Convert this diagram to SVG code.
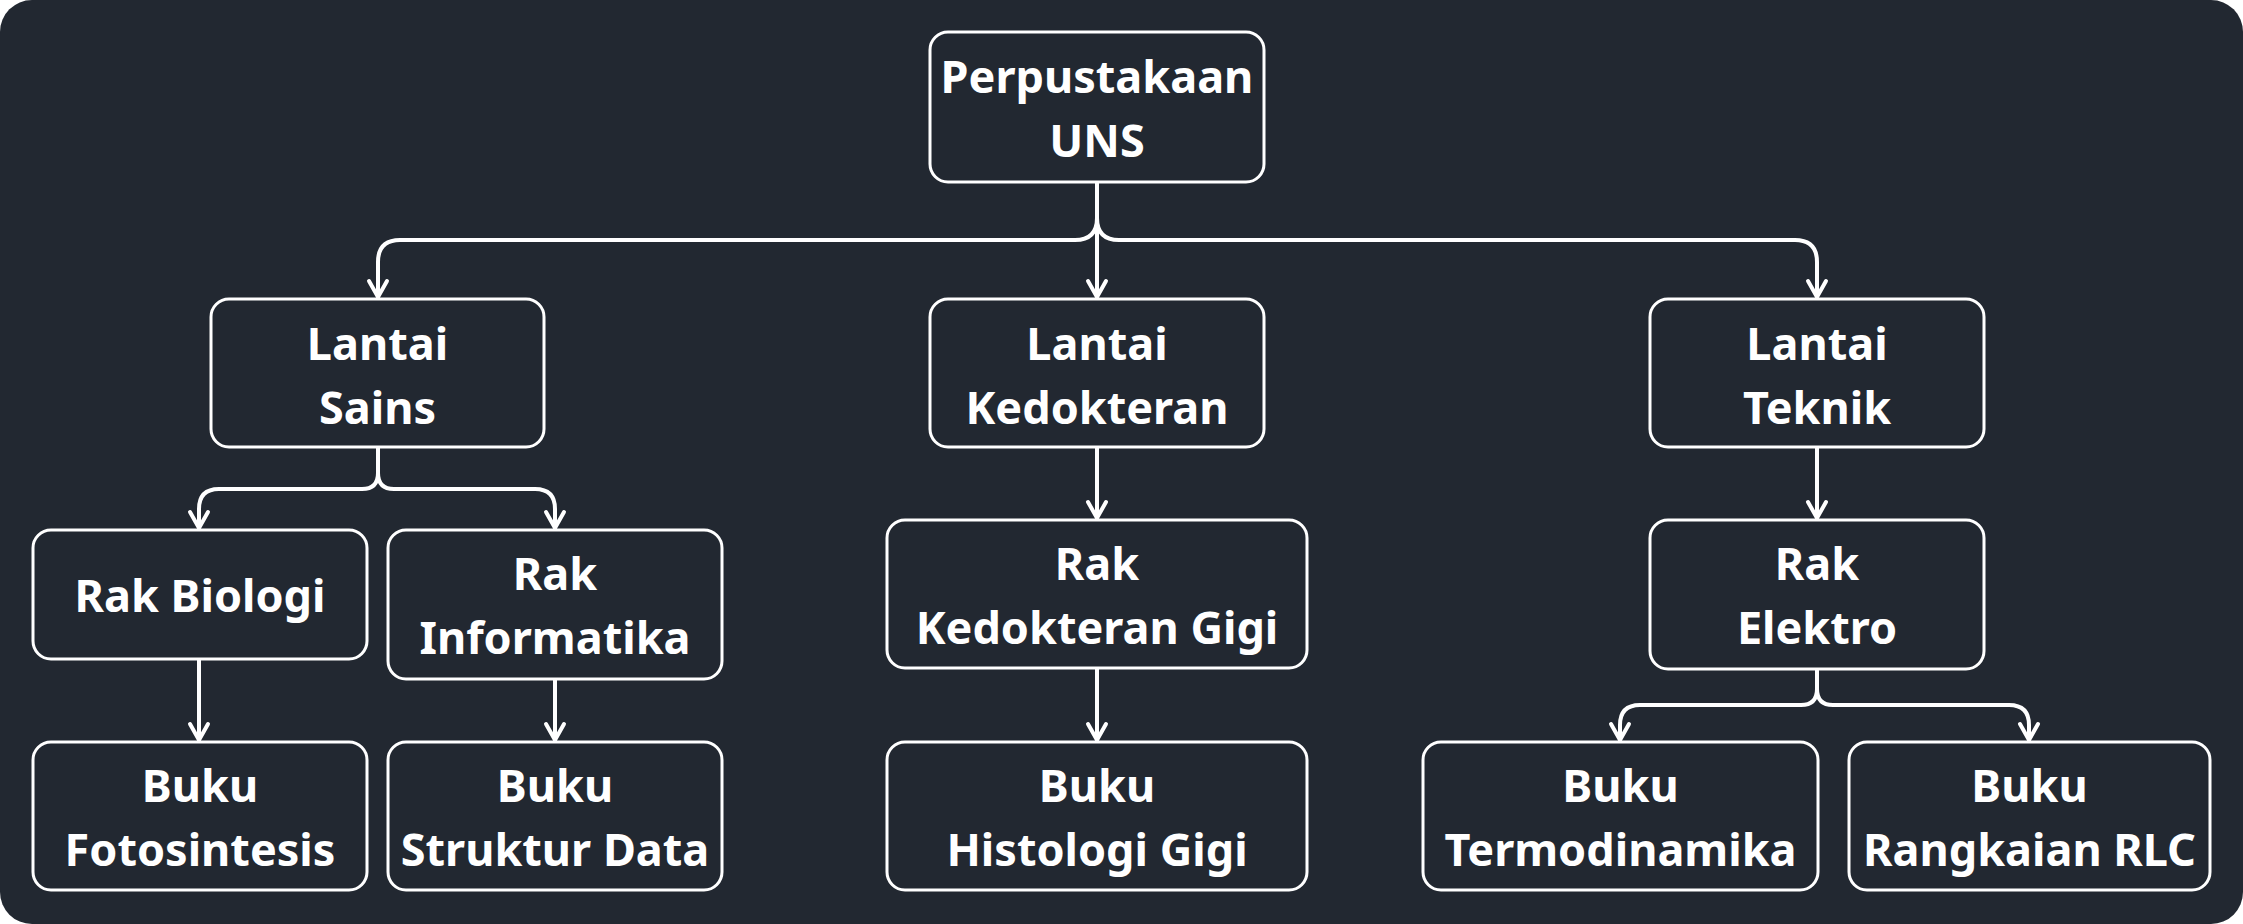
<svg xmlns="http://www.w3.org/2000/svg" width="2243" height="924" viewBox="0 0 2243 924">
<defs>
<style>
.box{fill:#222831;stroke:#ffffff;stroke-width:3}
.lbl{font-family:"Noto Sans","Open Sans","Liberation Sans",sans-serif;font-weight:700;font-size:45px;fill:#ffffff;text-anchor:middle}
.con{fill:none;stroke:#ffffff;stroke-width:4;stroke-linecap:round;stroke-linejoin:round}
</style>
<marker id="arr" markerUnits="userSpaceOnUse" markerWidth="40" markerHeight="40" refX="0" refY="0" orient="auto" overflow="visible">
<path d="M-16,-9 L0,0 L-16,9" fill="none" stroke="#ffffff" stroke-width="4" stroke-linecap="round" stroke-linejoin="round"/>
</marker>
</defs>
<rect x="0" y="0" width="2243" height="924" rx="32" fill="#222831"/>
<g id="connectors">
<path class="con" marker-end="url(#arr)" d="M1097 182 V218 Q1097 240 1075 240 H400 Q378 240 378 262 V297"/>
<path class="con" marker-end="url(#arr)" d="M1097 182 V297"/>
<path class="con" marker-end="url(#arr)" d="M1097 182 V218 Q1097 240 1119 240 H1795 Q1817 240 1817 262 V297"/>
<path class="con" marker-end="url(#arr)" d="M378 448 V473 Q378 489 362 489 H219 Q199 489 199 509 V528"/>
<path class="con" marker-end="url(#arr)" d="M378 448 V473 Q378 489 394 489 H535 Q555 489 555 509 V528"/>
<path class="con" marker-end="url(#arr)" d="M199 659 V740"/>
<path class="con" marker-end="url(#arr)" d="M555 679 V740"/>
<path class="con" marker-end="url(#arr)" d="M1097 448 V518"/>
<path class="con" marker-end="url(#arr)" d="M1097 668 V740"/>
<path class="con" marker-end="url(#arr)" d="M1817 448 V518"/>
<path class="con" marker-end="url(#arr)" d="M1817 669 V689 Q1817 705 1801 705 H1640 Q1620 705 1620 725 V740"/>
<path class="con" marker-end="url(#arr)" d="M1817 669 V689 Q1817 705 1833 705 H2009 Q2029 705 2029 725 V740"/>
</g>
<g id="root">
<rect class="box" x="930" y="32" width="334" height="150" rx="18"/>
<text class="lbl" x="1097" y="93">Perpustakaan</text>
<text class="lbl" x="1097" y="157">UNS</text>
</g>
<g id="lantai-sains">
<rect class="box" x="211" y="299" width="333" height="148" rx="18"/>
<text class="lbl" x="377.5" y="360">Lantai</text>
<text class="lbl" x="377.5" y="424">Sains</text>
</g>
<g id="lantai-kedokteran">
<rect class="box" x="930" y="299" width="334" height="148" rx="18"/>
<text class="lbl" x="1097" y="360">Lantai</text>
<text class="lbl" x="1097" y="424">Kedokteran</text>
</g>
<g id="lantai-teknik">
<rect class="box" x="1650" y="299" width="334" height="148" rx="18"/>
<text class="lbl" x="1817" y="360">Lantai</text>
<text class="lbl" x="1817" y="424">Teknik</text>
</g>
<g id="rak-biologi">
<rect class="box" x="33" y="530" width="334" height="129" rx="18"/>
<text class="lbl" x="200" y="612">Rak Biologi</text>
</g>
<g id="rak-informatika">
<rect class="box" x="388" y="530" width="334" height="149" rx="18"/>
<text class="lbl" x="555" y="590">Rak</text>
<text class="lbl" x="555" y="654">Informatika</text>
</g>
<g id="rak-kedokteran-gigi">
<rect class="box" x="887" y="520" width="420" height="148" rx="18"/>
<text class="lbl" x="1097" y="580">Rak</text>
<text class="lbl" x="1097" y="644">Kedokteran Gigi</text>
</g>
<g id="rak-elektro">
<rect class="box" x="1650" y="520" width="334" height="149" rx="18"/>
<text class="lbl" x="1817" y="580">Rak</text>
<text class="lbl" x="1817" y="644">Elektro</text>
</g>
<g id="buku-fotosintesis">
<rect class="box" x="33" y="742" width="334" height="148" rx="18"/>
<text class="lbl" x="200" y="802">Buku</text>
<text class="lbl" x="200" y="866">Fotosintesis</text>
</g>
<g id="buku-struktur-data">
<rect class="box" x="388" y="742" width="334" height="148" rx="18"/>
<text class="lbl" x="555" y="802">Buku</text>
<text class="lbl" x="555" y="866">Struktur Data</text>
</g>
<g id="buku-histologi-gigi">
<rect class="box" x="887" y="742" width="420" height="148" rx="18"/>
<text class="lbl" x="1097" y="802">Buku</text>
<text class="lbl" x="1097" y="866">Histologi Gigi</text>
</g>
<g id="buku-termodinamika">
<rect class="box" x="1423" y="742" width="395" height="148" rx="18"/>
<text class="lbl" x="1620.5" y="802">Buku</text>
<text class="lbl" x="1620.5" y="866">Termodinamika</text>
</g>
<g id="buku-rangkaian-rlc">
<rect class="box" x="1849" y="742" width="361" height="148" rx="18"/>
<text class="lbl" x="2029.5" y="802">Buku</text>
<text class="lbl" x="2029.5" y="866">Rangkaian RLC</text>
</g>
</svg>
